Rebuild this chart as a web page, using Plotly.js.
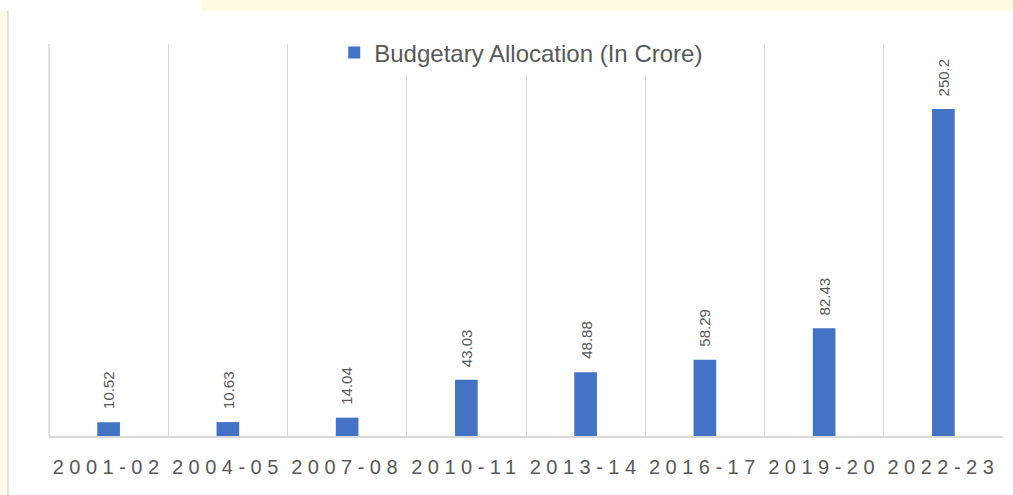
<!DOCTYPE html>
<html>
<head>
<meta charset="utf-8">
<script src="https://cdn.plot.ly/plotly-3.0.1.min.js"></script>
<style>
html,body{margin:0;padding:0;background:#fff;}
#chart{width:1013px;height:495px;}
</style>
</head>
<body>
<div id="chart"></div>
<script>
const categories = ["2001-02","2004-05","2007-08","2010-11","2013-14","2016-17","2019-20","2022-23"];
const allocation = [10.52, 10.63, 14.04, 43.03, 48.88, 58.29, 82.43, 250.2];
const labels = ["10.52","10.63","14.04","43.03","48.88","58.29","82.43","250.2"];
const seriesName = "Budgetary Allocation (In Crore)";

const FONT = "Liberation Sans, Arial, sans-serif";

const trace = {
  type: "bar",
  x: categories,
  y: allocation,
  name: seriesName,
  marker: {color: "#4472C4"},
  hoverinfo: "none"
};

const annotations = categories.map(function(c, i){
  return {
    x: c, y: allocation[i], xref: "x", yref: "y",
    text: labels[i], showarrow: false, textangle: -90,
    xanchor: "center", yanchor: "bottom", yshift: 11,
    font: {family: FONT, size: 15, color: "#595959"}
  };
});

const layout = {
  width: 1013, height: 495,
  margin: {l: 49, r: 10, t: 44, b: 59},
  paper_bgcolor: "#ffffff",
  plot_bgcolor: "rgba(0,0,0,0)",
  bargap: 0.81,
  showlegend: true,
  legend: {
    orientation: "h", x: 0.495, xanchor: "center", y: 1.035, yanchor: "top",
    bgcolor: "#ffffff",
    font: {family: FONT, size: 24, color: "#595959"},
    itemwidth: 30
  },
  xaxis: {
    type: "category",
    range: [-0.5, 7.5],
    tickson: "boundaries",
    showgrid: true, gridcolor: "#d9d9d9", gridwidth: 1,
    showline: true, linecolor: "#d9d9d9", linewidth: 1.5,
    ticks: "",
    ticklabelstandoff: 12,
    tickfont: {family: FONT, size: 20, color: "#595959"},
    fixedrange: true
  },
  yaxis: {
    range: [0, 300],
    showgrid: false, zeroline: false, showticklabels: false,
    showline: false,
    fixedrange: true
  },
  annotations: annotations,
  shapes: [
    {type: "rect", xref: "paper", yref: "paper", x0: 0.16, x1: 1.02, y0: 1.084, y1: 1.115,
     fillcolor: "rgba(255,243,190,0.45)", line: {width: 0}, layer: "below"},
    {type: "rect", xref: "paper", yref: "paper", x0: -0.052, x1: -0.043, y0: -0.16, y1: 1.084,
     fillcolor: "rgba(255,243,190,0.35)", line: {width: 0}, layer: "below"},
    {type: "line", xref: "paper", yref: "paper", x0: -0.043, x1: -0.043, y0: -0.16, y1: 1.084,
     line: {color: "#d9d9d9", width: 1.5}},
    {type: "line", xref: "paper", yref: "paper", x0: 0, x1: 0, y0: 0, y1: 1,
     line: {color: "#d9d9d9", width: 1.5}}
  ]
};

Plotly.newPlot("chart", [trace], layout, {displayModeBar: false, staticPlot: true}).then(function(){
  document.querySelectorAll(".xtick text").forEach(function(t){
    t.style.letterSpacing = "5.5px";
  });
});
</script>
</body>
</html>
